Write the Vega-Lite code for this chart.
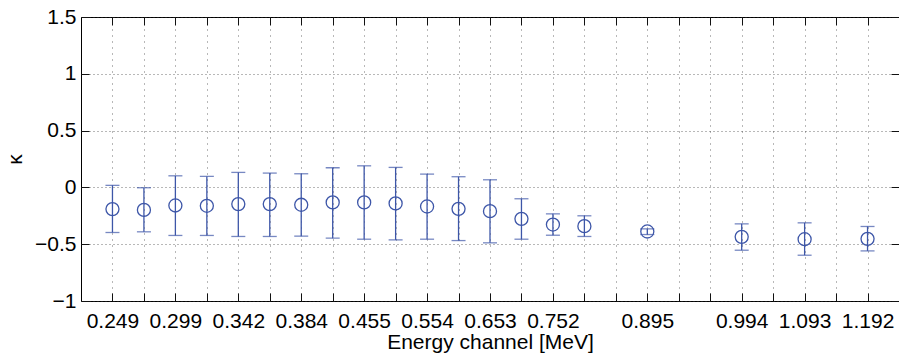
{
  "$schema": "https://vega.github.io/schema/vega-lite/v6.json",
  "width": 818,
  "height": 284,
  "autosize": {"type": "none"},
  "padding": {"left": 81, "top": 17, "right": 0, "bottom": 52},
  "background": "white",
  "config": {
    "view": {"stroke": "#000", "strokeWidth": 1},
    "axis": {"labelFont": "Liberation Sans", "titleFont": "Liberation Sans", "labelColor": "#000", "titleColor": "#000", "tickColor": "#111", "domain": false}
  },
  "data": {"values": [
    {"k": 0, "kappa": -0.191, "lo": -0.397, "hi": 0.018},
    {"k": 1, "kappa": -0.198, "lo": -0.391, "hi": -0.003},
    {"k": 2, "kappa": -0.159, "lo": -0.423, "hi": 0.102},
    {"k": 3, "kappa": -0.162, "lo": -0.423, "hi": 0.097},
    {"k": 4, "kappa": -0.147, "lo": -0.432, "hi": 0.132},
    {"k": 5, "kappa": -0.147, "lo": -0.432, "hi": 0.126},
    {"k": 6, "kappa": -0.153, "lo": -0.429, "hi": 0.120},
    {"k": 7, "kappa": -0.132, "lo": -0.447, "hi": 0.173},
    {"k": 8, "kappa": -0.132, "lo": -0.456, "hi": 0.190},
    {"k": 9, "kappa": -0.141, "lo": -0.462, "hi": 0.176},
    {"k": 10, "kappa": -0.168, "lo": -0.456, "hi": 0.117},
    {"k": 11, "kappa": -0.189, "lo": -0.468, "hi": 0.094},
    {"k": 12, "kappa": -0.209, "lo": -0.488, "hi": 0.067},
    {"k": 13, "kappa": -0.277, "lo": -0.456, "hi": -0.100},
    {"k": 14, "kappa": -0.327, "lo": -0.421, "hi": -0.233},
    {"k": 15, "kappa": -0.341, "lo": -0.432, "hi": -0.250},
    {"k": 17, "kappa": -0.388, "lo": -0.415, "hi": -0.365},
    {"k": 20, "kappa": -0.435, "lo": -0.553, "hi": -0.321},
    {"k": 22, "kappa": -0.456, "lo": -0.597, "hi": -0.312},
    {"k": 24, "kappa": -0.453, "lo": -0.559, "hi": -0.344}
  ]},
  "resolve": {"axis": {"x": "independent", "y": "independent"}},
  "layer": [
    {
      "mark": {"type": "rule", "color": "#3d56a8", "strokeWidth": 1.3},
      "encoding": {
        "x": {"field": "k", "type": "quantitative", "scale": {"domain": [-1, 25], "nice": false, "zero": false},
          "axis": {"orient": "bottom", "values": [0,1,2,3,4,5,6,7,8,9,10,11,12,13,14,15,16,17,18,19,20,21,22,23,24],
            "labelExpr": "['0.249','','0.299','','0.342','','0.384','','0.455','','0.554','','0.653','','0.752','','','0.895','','','0.994','','1.093','','1.192'][datum.value]",
            "labelFontSize": 21, "labelPadding": 17, "labelOverlap": false, "labelFlush": false,
            "tickSize": -8, "tickWidth": 1,
            "grid": true, "gridDash": [1, 5], "gridColor": "#333", "gridOpacity": 0.7, "gridWidth": 1,
            "title": "Energy channel [MeV]", "titleFontSize": 21, "titleFontWeight": "normal", "titlePadding": 0}},
        "y": {"field": "lo", "type": "quantitative", "scale": {"domain": [-1, 1.5], "nice": false, "zero": false},
          "axis": {"orient": "left", "values": [-1, -0.5, 0, 0.5, 1, 1.5], "format": "~g",
            "labelFontSize": 21, "labelPadding": 13, "tickSize": -8, "tickWidth": 1,
            "grid": true, "gridDash": [1, 3], "gridColor": "#333", "gridOpacity": 0.7, "gridWidth": 1,
            "title": "κ", "titleFontSize": 21, "titleFontWeight": "normal", "titlePadding": 9}},
        "y2": {"field": "hi"}
      }
    },
    {
      "mark": {"type": "tick", "color": "#3d56a8", "thickness": 1.3, "size": 14, "orient": "horizontal"},
      "encoding": {
        "x": {"field": "k", "type": "quantitative",
          "axis": {"orient": "top", "values": [0,1,2,3,4,5,6,7,8,9,10,11,12,13,14,15,16,17,18,19,20,21,22,23,24], "labels": false, "grid": false, "tickSize": -8, "title": null}},
        "y": {"field": "lo", "type": "quantitative",
          "axis": {"orient": "right", "values": [-1, -0.5, 0, 0.5, 1, 1.5], "labels": false, "grid": false, "tickSize": -8, "title": null}}
      }
    },
    {
      "mark": {"type": "tick", "color": "#3d56a8", "thickness": 1.3, "size": 14, "orient": "horizontal"},
      "encoding": {
        "x": {"field": "k", "type": "quantitative", "axis": null},
        "y": {"field": "hi", "type": "quantitative", "axis": null}
      }
    },
    {
      "mark": {"type": "point", "shape": "circle", "filled": false, "color": "#3d56a8", "size": 170, "strokeWidth": 1.3, "opacity": 1},
      "encoding": {
        "x": {"field": "k", "type": "quantitative", "axis": null},
        "y": {"field": "kappa", "type": "quantitative", "axis": null}
      }
    }
  ]
}
